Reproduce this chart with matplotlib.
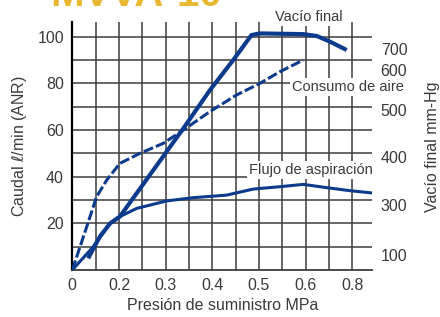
import matplotlib.pyplot as plt

# x in axis units: one grid cell = 0.05 (chart labels its grid 0, 0.2, 0.3 ... 0.8)
vacio_x = [0.034, 0.059, 0.081, 0.102, 0.174, 0.238, 0.295, 0.345, 0.384, 0.402, 0.495, 0.524, 0.552, 0.588]
vacio_y = [5.0, 14.3, 20.0, 22.9, 42.9, 60.7, 77.1, 90.0, 100.7, 101.4, 101.1, 100.3, 97.9, 94.3]

flujo_x = [0.0, 0.045, 0.081, 0.102, 0.138, 0.202, 0.259, 0.331, 0.388, 0.445, 0.495, 0.545, 0.595, 0.644]
flujo_y = [0.0, 10.0, 20.0, 22.9, 26.4, 29.6, 31.0, 32.1, 34.7, 35.7, 36.7, 35.3, 34.0, 33.0]

consumo_x = [0.0, 0.031, 0.052, 0.074, 0.102, 0.145, 0.195, 0.238, 0.295, 0.352, 0.402, 0.445, 0.495]
consumo_y = [0.0, 18.6, 31.4, 38.6, 45.7, 50.0, 54.3, 60.0, 67.9, 75.0, 80.0, 85.0, 90.0]

x_tick_pos = [0.0, 0.1, 0.2, 0.3, 0.4, 0.5, 0.6]
x_tick_labels = ['0', '0.2', '0.3', '0.4', '0.5', '0.6', '0.8']
y_tick_pos = [20, 40, 60, 80, 100]
right_tick_pos = [94.7, 85.7, 68.6, 48.4, 27.9, 6.4]
right_tick_labels = ['700', '600', '500', '400', '300', '100']

blue = '#0c3a8c'
grid_c = '#3c3c3c'
txt_c = '#3a3a3a'

plt.rcParams['font.family'] = ['Liberation Sans', 'DejaVu Sans']

W, H = 440, 317
fig = plt.figure(figsize=(4.4, 3.17), dpi=100)
ax = fig.add_axes([72.3 / W, 1 - 270 / H, 300 / W, 248 / H])
ax.set_xlim(0, 0.643)
ax.set_ylim(0, 106.3)

for i in range(13):
    ax.axvline(i * 0.05, color=grid_c, lw=1.1, zorder=1)
for j in range(1, 11):
    ax.axhline(j * 10, color=grid_c, lw=1.1, zorder=1)

ax.plot(flujo_x, flujo_y, color=blue, lw=2.2, solid_capstyle='butt', zorder=3)
ax.plot(consumo_x, consumo_y, color=blue, lw=2.2, linestyle=(0, (3.3, 1.0)), zorder=3)
ax.plot(vacio_x, vacio_y, color=blue, lw=3.0, solid_capstyle='butt', zorder=4)

for s in ['top', 'right']:
    ax.spines[s].set_visible(False)
ax.spines['left'].set_linewidth(1.6)
ax.spines['bottom'].set_linewidth(1.3)
ax.spines['bottom'].set_color(grid_c)

ax.set_xticks(x_tick_pos)
ax.set_xticklabels(x_tick_labels)
ax.set_yticks(y_tick_pos)
ax.tick_params(length=0, labelsize=11.5, labelcolor=txt_c, pad=6)

ax.set_xlabel('Presión de suministro MPa', fontsize=11.5, color=txt_c, labelpad=3)
ax.set_ylabel('Caudal $\\ell$/min (ANR)', fontsize=11.5, color=txt_c, labelpad=6)

ax2 = ax.twinx()
ax2.set_ylim(ax.get_ylim())
ax2.set_yticks(right_tick_pos)
ax2.set_yticklabels(right_tick_labels)
ax2.tick_params(length=0, labelsize=11.5, labelcolor=txt_c, pad=6)
for s in ax2.spines.values():
    s.set_visible(False)
fig.text(432 / W, 1 - 147 / H, 'Vacío final mm-Hg', rotation=90, fontsize=11.5,
         color=txt_c, ha='center', va='center')

box = dict(facecolor='white', edgecolor='none', pad=1.5)
labels = [(309, 17, 'Vacío final'), (348, 87, 'Consumo de aire'),
          (311, 170, 'Flujo de aspiración')]
for px, py, s in labels:
    fig.text(px / W, 1 - py / H, s, fontsize=10.5, color=txt_c,
             ha='center', va='center', bbox=box, zorder=5)

fig.text(50 / W, 1 - 6 / H, 'MVVA-10', fontsize=29, fontweight='bold',
         color='#e8b830', ha='left', va='baseline')

fig.savefig('out.png', dpi=100)
